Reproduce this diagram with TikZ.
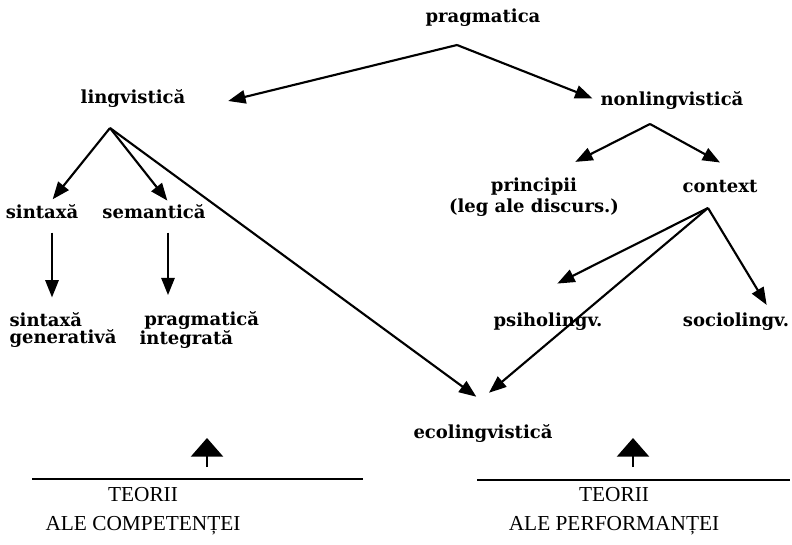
\documentclass[tikz,border=0pt]{standalone}
\usepackage{fontspec}
\setmainfont{Liberation Serif}
\newfontfamily\labelfont{DejaVu Serif}
\usetikzlibrary{arrows.meta}

\begin{document}
\begin{tikzpicture}[x=0.75pt, y=-0.75pt,
  term/.style={font=\labelfont\bfseries\fontsize{13.5}{13}\selectfont, inner sep=1pt},
  theory/.style={font=\fontsize{16}{22}\selectfont, align=center, inner sep=1pt},
  link/.style={line width=1.6pt, -{Triangle[length=13pt, width=10pt]}},
  bigup/.style={line width=1.8pt, -{Triangle[length=14pt, width=24pt]}}]
% Fix the page size
\useasboundingbox (0, 0) rectangle (792, 545);

% Place the terms
\node[term] (prag) at (483, 18) {pragmatica};
\node[term] (lingv) at (133, 99) {lingvistică};
\node[term] (nonling) at (672, 101) {nonlingvistică};
\node[term] (sint) at (42, 212) {sintaxă};
\node[term] (sem) at (154, 212) {semantică};
\node[term, align=center, font=\labelfont\bfseries\fontsize{13.5}{16}\selectfont] (princ) at (534, 197) {principii\\(leg ale discurs.)};
\node[term] (ctx) at (720, 187) {context};
\node[term, anchor=west, align=left] (sintgen) at (8, 330) {sintaxă\\generativă};
\node[term, anchor=west, align=left] (pragint) at (138, 330) {\hspace*{3.5pt}pragmatică\\integrată};
\node[term] (psi) at (548, 322) {psiholingv.};
\node[term] (soc) at (736, 322) {sociolingv.};
\node[term] (eco) at (483, 434) {ecolingvistică};

% Points where the arrows split
\coordinate (pragfork) at (457, 45);
\coordinate (lingvfork) at (110, 128);
\coordinate (nonfork) at (650, 124);
\coordinate (ctxfork) at (708, 208);
\coordinate (sintdrop) at ([xshift=7.5pt, yshift=-9pt]sint.south);
\coordinate (semdrop) at ([xshift=10.5pt, yshift=-9pt]sem.south);

% Draw the arrows
\draw[link] (pragfork) -- ([xshift=31pt, yshift=-1.5pt]lingv.east);
\draw[link] (pragfork) -- ([xshift=-5pt, yshift=2pt]nonling.west);
\draw[link] (lingvfork) -- ([xshift=8pt, yshift=3pt]sint.north);
\draw[link] (lingvfork) -- ([xshift=10pt, yshift=2pt]sem.north);
\draw[link] (lingvfork) -- ([xshift=-5pt, yshift=20pt]eco.north);
\draw[link] (nonfork) -- ([xshift=31pt, yshift=10.5pt]princ.north);
\draw[link] (nonfork) -- ([yshift=12.5pt]ctx.north);
\draw[link] (ctxfork) -- ([xshift=7pt, yshift=21pt]psi.north);
\draw[link] (ctxfork) -- ([xshift=4.5pt, yshift=23pt]eco.north);
\draw[link] (ctxfork) -- ([xshift=23pt, yshift=5pt]soc.north);
\draw[link, shorten >=10pt] (sintdrop) -- (sintdrop |- sintgen.north);
\draw[link, shorten >=11pt] (semdrop) -- (semdrop |- pragint.north);

% The two theory groups
\draw[line width=1.6pt] (32, 479) -- (363, 479);
\draw[line width=1.6pt] (477, 480) -- (790, 480);
\coordinate (compup) at (207, 467);
\coordinate (perfup) at (633, 467);
\draw[bigup] (compup) -- ++(0, -29);
\draw[bigup] (perfup) -- ++(0, -29);
\node[theory] (teoc) at (143, 511) {TEORII\\ALE COMPETENȚEI};
\node[theory] (teop) at (614, 511) {TEORII\\ALE PERFORMANȚEI};
\end{tikzpicture}
\end{document}
